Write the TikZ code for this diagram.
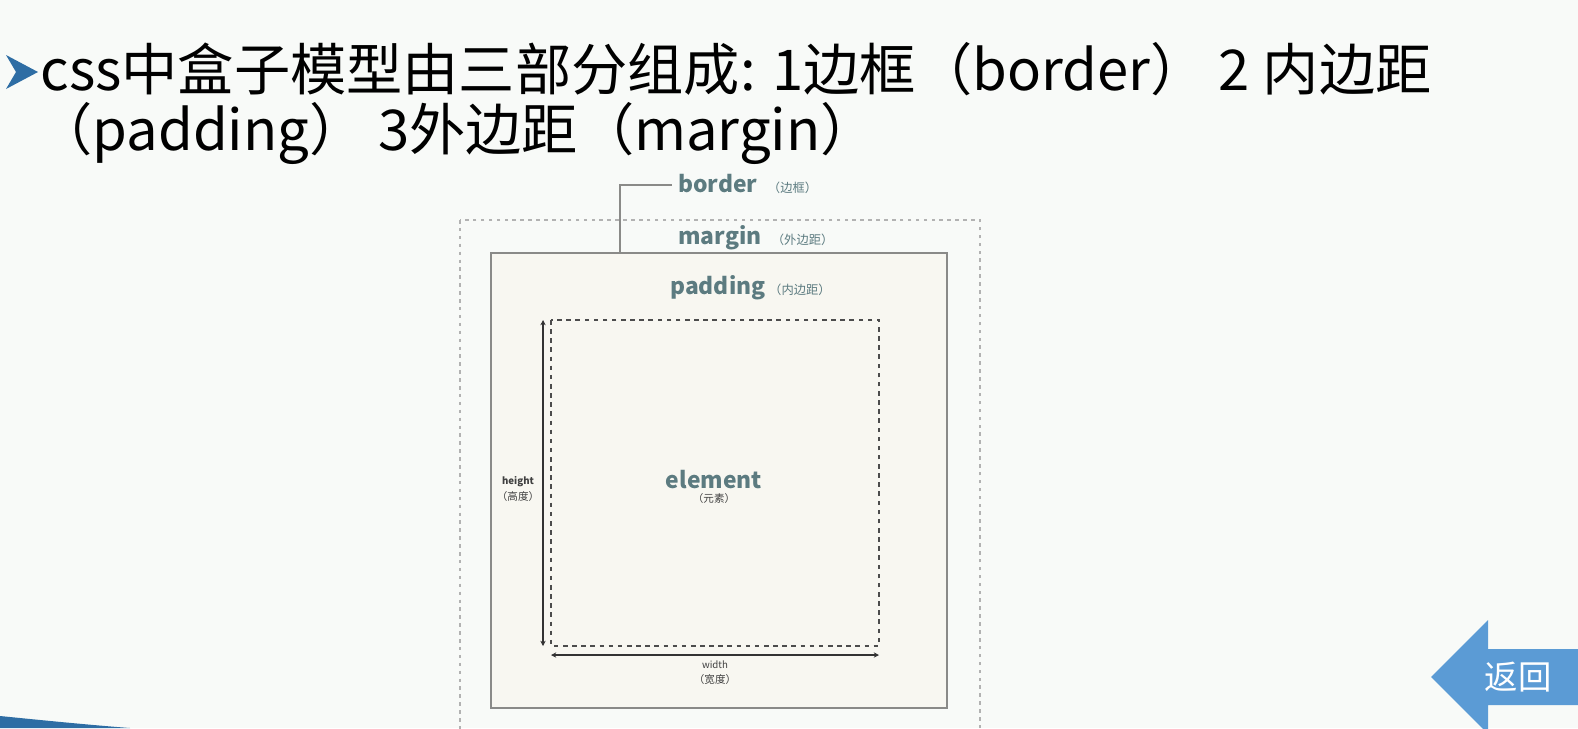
\documentclass[tikz,border=0pt]{standalone}
\usepackage{fontspec}
\setmainfont{Noto Sans CJK SC}
\usetikzlibrary{arrows.meta,positioning}
\definecolor{bg}{HTML}{F8FAF8}
\definecolor{cream}{HTML}{F8F7F1}
\definecolor{boxline}{HTML}{8A8A88}
\definecolor{teal}{HTML}{5C7B80}
\definecolor{btnblue}{HTML}{5B9BD5}
\definecolor{bulletblue}{HTML}{2E6DA4}

\begin{document}
\begin{tikzpicture}[x=0.02cm, y=-0.02cm,
    title/.style={inner sep=0, anchor=base west, font=\fontsize{32}{38}\selectfont},
    part/.style={inner sep=0, anchor=base west, text=teal, font=\bfseries\fontsize{13}{15}\selectfont},
    tiny/.style={inner sep=0, text=black!75, font=\fontsize{6}{7}\selectfont},
    dim/.style={black!80, line width=0.6pt, {Stealth[length=3pt,width=3pt]}-{Stealth[length=3pt,width=3pt]}}]
\fill[bg] (0,0) rectangle (1578,728);
\useasboundingbox (0,0) rectangle (1578,728);
\fill[bulletblue] (6,55) -- (38,72) -- (6,89) -- (16,72) -- cycle;
\node[title] (title1) at (40,90) {css中盒子模型由三部分组成: 1边框（border） 2 内边距};
\node[title] (title2) at (36,150) {（padding） 3外边距（margin）};
\draw[black!30, line width=0.8pt, dash pattern=on 2pt off 2.5pt] (460,220) rectangle (980,740);
\draw[boxline, fill=cream, line width=1.3pt] (491,253) rectangle (947,708);
\draw[black!70, line width=0.9pt, dash pattern=on 2.6pt off 2.6pt] (551,320) rectangle (879,646);
\node[part] (bordertxt) at (678,192) {border\ \ {\mdseries\fontsize{7}{8}\selectfont（边框）}};
\node[part] (margintxt) at (678,244) {margin\ \ {\mdseries\fontsize{7}{8}\selectfont（外边距）}};
\node[part] (paddingtxt) at (670,294) {padding\,{\mdseries\fontsize{7}{8}\selectfont（内边距）}};
\coordinate (bordertop) at (620,253);
\coordinate (borderend) at (672,185);
\draw[boxline, line width=0.8pt] (bordertop) |- (borderend);
\node[part, anchor=center] (elementtxt) at (714,480) {element};
\node[tiny, below=2pt of elementtxt] (elementcn) {（元素）};
\coordinate (htop) at (543,320);
\coordinate (hbot) at (543,646);
\draw[dim] (htop) -- (hbot);
\node[tiny, font=\bfseries\fontsize{5.5}{6.5}\selectfont] (heighttxt) at (518,482) {height};
\node[tiny, below=2pt of heighttxt] (heightcn) {（高度）};
\coordinate (wleft) at (551,655);
\coordinate (wright) at (879,655);
\draw[dim] (wleft) -- (wright);
\node[tiny, font=\fontsize{5.5}{6.5}\selectfont] (widthtxt) at (715,665) {width};
\node[tiny, below=3pt of widthtxt] (widthcn) {（宽度）};
\fill[btnblue] (1431,677) -- (1488,620) -- (1488,649) -- (1578,649) -- (1578,705) -- (1488,705) -- (1488,734) -- cycle;
\node[inner sep=0, text=white, font=\fontsize{19}{22}\selectfont] (back) at (1518,677) {返回};
\fill[bulletblue] (0,716) .. controls (40,720) and (90,725) .. (130,728) -- (0,728) -- cycle;
\end{tikzpicture}
\end{document}
